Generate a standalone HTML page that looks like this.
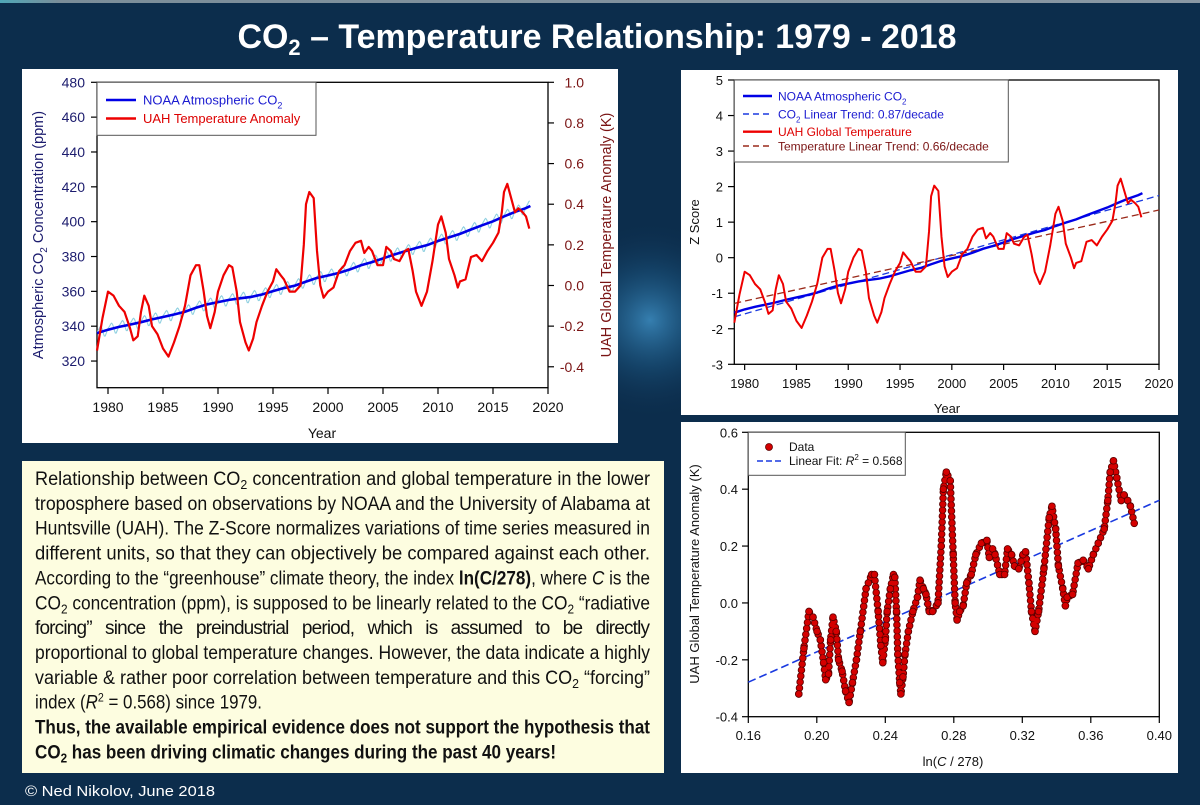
<!DOCTYPE html>
<html><head><meta charset="utf-8"><style>
html,body{margin:0;padding:0;background:#0c2d4c;}
svg{display:block;font-family:"Liberation Sans",Arial,sans-serif;}
</style></head><body>
<svg id="root" width="1200" height="805" viewBox="0 0 1200 805" xmlns="http://www.w3.org/2000/svg">
<defs>
<radialGradient id="glow" cx="0.5" cy="0.5" r="0.5">
<stop offset="0" stop-color="#3a88bb" stop-opacity="0.9"/>
<stop offset="0.5" stop-color="#1d5a86" stop-opacity="0.45"/>
<stop offset="1" stop-color="#0c2d4c" stop-opacity="0"/>
</radialGradient>
<linearGradient id="topstrip" x1="0" x2="1" y1="0" y2="0">
<stop offset="0" stop-color="#4fa7b8"/><stop offset="0.05" stop-color="#7b8d99"/><stop offset="1" stop-color="#8a98a4"/>
</linearGradient>
<clipPath id="zclip"><rect x="734.3" y="80" width="424.7" height="284.3"/></clipPath>
<clipPath id="mclip"><rect x="97" y="82.3" width="451" height="305.4"/></clipPath>
</defs>
<rect x="0" y="0" width="1200" height="805" fill="#0c2d4c"/>
<rect x="0" y="0" width="1200" height="3" fill="url(#topstrip)"/>
<circle cx="650" cy="320" r="100" fill="url(#glow)"/>

<text x="597" y="48" text-anchor="middle" font-size="34" font-weight="bold" fill="#ffffff" textLength="719" lengthAdjust="spacingAndGlyphs" style="font-family:'Liberation Sans Narrow','Liberation Sans',sans-serif">CO<tspan font-size="22" dy="7">2</tspan><tspan dy="-7"> – Temperature Relationship: 1979 - 2018</tspan></text>

<rect x="22" y="69" width="596" height="374" fill="#ffffff"/>
<rect x="681" y="70" width="497" height="345" fill="#ffffff"/>
<rect x="681" y="422" width="497" height="351" fill="#ffffff"/>
<rect x="22" y="461" width="642" height="312" fill="#fdfde0"/>

<g id="main"></g>
<g id="zchart"></g>
<g id="schart"></g>

<g id="desc" fill="#111" font-size="19" style="font-family:'Liberation Sans Narrow','Liberation Sans',sans-serif">
<text x="35" y="485" textLength="615" lengthAdjust="spacingAndGlyphs">Relationship between CO<tspan font-size="13" dy="4">2</tspan><tspan dy="-4"> concentration and global temperature in the lower</tspan></text>
<text x="35" y="509.9" textLength="615" lengthAdjust="spacingAndGlyphs">troposphere based on observations by NOAA and the University of Alabama at</text>
<text x="35" y="534.7" textLength="615" lengthAdjust="spacingAndGlyphs">Huntsville (UAH). The Z-Score normalizes variations of time series measured in</text>
<text x="35" y="559.6" textLength="615" lengthAdjust="spacingAndGlyphs">different units, so that they can objectively be compared against each other.</text>
<text x="35" y="584.4" textLength="615" lengthAdjust="spacingAndGlyphs">According to the “greenhouse” climate theory, the index <tspan font-weight="bold">ln(C/278)</tspan>, where <tspan font-style="italic">C</tspan> is the</text>
<text x="35" y="609.3" textLength="615" lengthAdjust="spacingAndGlyphs">CO<tspan font-size="13" dy="4">2</tspan><tspan dy="-4"> concentration (ppm), is supposed to be linearly related to the CO</tspan><tspan font-size="13" dy="4">2</tspan><tspan dy="-4"> “radiative</tspan></text>
<text x="35" y="634.1" textLength="615" lengthAdjust="spacing" style="white-space:pre">forcing”   since   the   preindustrial   period,   which   is   assumed   to   be   directly</text>
<text x="35" y="659" textLength="615" lengthAdjust="spacingAndGlyphs">proportional to global temperature changes. However, the data indicate a highly</text>
<text x="35" y="683.8" textLength="615" lengthAdjust="spacingAndGlyphs">variable &amp; rather poor correlation between temperature and this CO<tspan font-size="13" dy="4">2</tspan><tspan dy="-4"> “forcing”</tspan></text>
<text x="35" y="708.7" textLength="227" lengthAdjust="spacingAndGlyphs">index (<tspan font-style="italic">R</tspan><tspan font-size="12" dy="-7">2</tspan><tspan dy="7"> = 0.568) since 1979.</tspan></text>
<text x="35" y="733.5" textLength="615" lengthAdjust="spacingAndGlyphs" font-weight="bold">Thus, the available empirical evidence does not support the hypothesis that</text>
<text x="35" y="758.4" textLength="521" lengthAdjust="spacingAndGlyphs" font-weight="bold">CO<tspan font-size="13" dy="4">2</tspan><tspan dy="-4"> has been driving climatic changes during the past 40 years!</tspan></text>
</g>
<text x="25" y="796" font-size="15" fill="#ffffff" textLength="190" lengthAdjust="spacingAndGlyphs" style="font-family:'Liberation Sans Narrow','Liberation Sans',sans-serif">© Ned Nikolov, June  2018</text>
</svg>
<script>
// ---- data ----
const co2Years = [1979,1980,1981,1982,1983,1984,1985,1986,1987,1988,1989,1990,1991,1992,1993,1994,1995,1996,1997,1998,1999,2000,2001,2002,2003,2004,2005,2006,2007,2008,2009,2010,2011,2012,2013,2014,2015,2016,2017,2018,2018.4];
const co2Values = [336.0,338.0,339.6,340.9,342.3,343.9,345.3,346.7,348.3,350.6,352.5,353.8,355.1,356.0,356.8,358.2,360.1,361.9,363.3,365.6,367.7,369.1,370.6,372.6,375.0,376.8,378.9,381.1,383.0,384.9,386.5,388.9,391.0,393.0,395.5,397.9,400.2,403.0,405.6,407.8,409.0];
const seasonalOffsets = [0.7,1.3,2.0,2.9,3.2,2.4,0.8,-1.4,-3.0,-3.1,-1.8,-0.6];
const tempYears = [1979.0,1979.5,1980.0,1980.5,1981.0,1981.5,1982.0,1982.3,1982.7,1983.0,1983.3,1983.7,1984.0,1984.5,1985.0,1985.5,1986.0,1986.5,1987.0,1987.5,1988.0,1988.3,1988.7,1989.0,1989.3,1989.7,1990.0,1990.5,1991.0,1991.3,1991.7,1992.0,1992.5,1992.8,1993.2,1993.5,1994.0,1994.5,1995.0,1995.3,1995.7,1996.0,1996.5,1997.0,1997.5,1997.8,1998.0,1998.3,1998.7,1999.0,1999.3,1999.6,2000.0,2000.5,2001.0,2001.5,2002.0,2002.5,2003.0,2003.3,2003.7,2004.0,2004.5,2005.0,2005.3,2005.7,2006.0,2006.5,2007.0,2007.3,2007.7,2008.0,2008.5,2009.0,2009.5,2010.0,2010.3,2010.7,2011.0,2011.5,2011.8,2012.0,2012.5,2013.0,2013.5,2014.0,2014.5,2015.0,2015.5,2015.8,2016.0,2016.3,2016.6,2017.0,2017.3,2017.7,2018.0,2018.3];
const tempValues = [-0.32,-0.16,-0.03,-0.05,-0.10,-0.13,-0.21,-0.27,-0.25,-0.13,-0.05,-0.10,-0.20,-0.24,-0.31,-0.35,-0.28,-0.20,-0.10,0.05,0.10,0.10,-0.03,-0.15,-0.21,-0.13,-0.03,0.05,0.10,0.09,-0.03,-0.18,-0.28,-0.32,-0.26,-0.18,-0.10,-0.03,0.02,0.08,0.05,0.03,-0.03,-0.03,0.00,0.20,0.40,0.46,0.43,0.17,0.00,-0.06,-0.03,-0.01,0.07,0.10,0.17,0.21,0.22,0.16,0.19,0.17,0.10,0.10,0.19,0.17,0.13,0.12,0.17,0.18,0.07,-0.03,-0.10,-0.03,0.12,0.30,0.34,0.26,0.13,0.05,-0.01,0.02,0.03,0.14,0.15,0.12,0.17,0.21,0.26,0.36,0.46,0.50,0.44,0.36,0.38,0.36,0.34,0.28];
const mainLeftTicks = [320,340,360,380,400,420,440,460,480];
const mainRightTicks = [-0.4,-0.2,0.0,0.2,0.4,0.6,0.8,1.0];
const yearTicks = [1980,1985,1990,1995,2000,2005,2010,2015,2020];
const zTicks = [-3,-2,-1,0,1,2,3,4,5];
const scatterYTicks = [-0.4,-0.2,0.0,0.2,0.4,0.6];
const scatterXTicks = [0.16,0.20,0.24,0.28,0.32,0.36,0.40];

// ---- helpers ----
const NS = "http://www.w3.org/2000/svg";
function mk(tag, attrs, parent){const e=document.createElementNS(NS,tag);for(const k in attrs)e.setAttribute(k,attrs[k]);parent.appendChild(e);return e;}
function lin(d0,d1,r0,r1){return v=>r0+(v-d0)/(d1-d0)*(r1-r0);}
function interp(xs,ys,x){if(x<=xs[0])return ys[0];for(let i=1;i<xs.length;i++){if(x<=xs[i]){const f=(x-xs[i-1])/(xs[i]-xs[i-1]);return ys[i-1]+f*(ys[i]-ys[i-1]);}}return ys[ys.length-1];}
function pathOf(xs,ys,fx,fy){return xs.map((x,i)=>(i?"L":"M")+fx(x).toFixed(2)+" "+fy(ys[i]).toFixed(2)).join(" ");}
function stats(a){const m=a.reduce((s,v)=>s+v,0)/a.length;const sd=Math.sqrt(a.reduce((s,v)=>s+(v-m)*(v-m),0)/(a.length-1));return [m,sd];}
function regress(xs,ys){const n=xs.length;const mx=xs.reduce((s,v)=>s+v,0)/n,my=ys.reduce((s,v)=>s+v,0)/n;let sxy=0,sxx=0;for(let i=0;i<n;i++){sxy+=(xs[i]-mx)*(ys[i]-my);sxx+=(xs[i]-mx)*(xs[i]-mx);}const b=sxy/sxx;return [my-b*mx,b];}
function frame(g,x0,y0,x1,y1){
  const r=mk('rect',{x:x0,y:y0,width:x1-x0,height:y1-y0,fill:'none',stroke:'#000','stroke-width':1.3},g);
  
  
}

// ================= MAIN CHART =================
(function(){
const g=document.getElementById('main');
const mx=lin(1979,2020,97,548), myL=lin(304.7,480,387.7,82.3), myR=lin(-0.503,1.0,387.7,82.3);
frame(g,97,82.3,548,387.7);
mainLeftTicks.forEach(v=>{
  const y=myL(v);
  const t=mk('line',{x1:97,x2:91,y1:y,y2:y,stroke:'#000','stroke-width':1.2},g);
  
  
  const l=mk('text',{x:85,y:y+5,'text-anchor':'end','font-size':14,fill:'#1c1c6e'},g);
  
  
  l.textContent=v;
});
mainRightTicks.forEach(v=>{
  const y=myR(v);
  const t=mk('line',{x1:548,x2:554,y1:y,y2:y,stroke:'#000','stroke-width':1.2},g);
  
  
  const l=mk('text',{x:584,y:y+5,'text-anchor':'end','font-size':14,fill:'#7a1414'},g);
  
  
  l.textContent=v.toFixed(1);
});
yearTicks.forEach(v=>{
  const x=mx(v);
  const t=mk('line',{x1:x,x2:x,y1:387.7,y2:394,stroke:'#000','stroke-width':1.2},g);
  
  
  const l=mk('text',{x:x,y:412,'text-anchor':'middle','font-size':14,fill:'#111'},g);
  
  
  l.textContent=v;
});
const xt=mk('text',{x:322,y:438,'text-anchor':'middle','font-size':14,fill:'#111'},g);


xt.textContent='Year';
const lt=mk('text',{x:0,y:0,'text-anchor':'middle','font-size':14.5,fill:'#1c1c6e',transform:'translate(43,235) rotate(-90)'},g);


lt.innerHTML='Atmospheric CO<tspan font-size="10" dy="4">2</tspan><tspan dy="-4"> Concentration (ppm)</tspan>';
const rt=mk('text',{x:0,y:0,'text-anchor':'middle','font-size':14.5,fill:'#7a1414',transform:'translate(611,235) rotate(-90)'},g);


rt.textContent='UAH Global Temperature Anomaly (K)';
const sx=[],sy=[];
for(let m=0;;m++){const t=1979+m/12;if(t>2018.4)break;sx.push(t);sy.push(interp(co2Years,co2Values,t)+seasonalOffsets[m%12]);}
const sl=mk('path',{d:pathOf(sx,sy,mx,myL),fill:'none',stroke:'#8fd0e0','stroke-width':1.1,'clip-path':'url(#mclip)'},g);


const cl=mk('path',{d:pathOf(co2Years,co2Values,mx,myL),fill:'none',stroke:'#0000e6','stroke-width':2.6},g);


const tl=mk('path',{d:pathOf(tempYears,tempValues,mx,myR),fill:'none',stroke:'#ee0000','stroke-width':2.2,'stroke-linejoin':'round'},g);


const lb=mk('rect',{x:97,y:82.3,width:219,height:53,fill:'#fff',stroke:'#555','stroke-width':1},g);


const l1=mk('line',{x1:106,x2:136,y1:100,y2:100,stroke:'#0000e6','stroke-width':2.5},g);


const t1=mk('text',{x:143,y:104.5,'font-size':13,fill:'#1a1ad0'},g);


t1.innerHTML='NOAA Atmospheric CO<tspan font-size="9" dy="4">2</tspan>';
const l2=mk('line',{x1:106,x2:136,y1:118.5,y2:118.5,stroke:'#ee0000','stroke-width':2.5},g);


const t2=mk('text',{x:143,y:123,'font-size':13,fill:'#dd0000'},g);


t2.textContent='UAH Temperature Anomaly';
})();

// ================= Z SCORE CHART =================
(function(){
const g=document.getElementById('zchart');
const zx=lin(1979,2020,734.3,1159), zy=lin(-3,5,364.3,80);
frame(g,734.3,80,1159,364.3);
zTicks.forEach(v=>{
  const y=zy(v);
  const t=mk('line',{x1:734.3,x2:728,y1:y,y2:y,stroke:'#000','stroke-width':1.2},g);
  
  
  const l=mk('text',{x:723,y:y+5,'text-anchor':'end','font-size':13,fill:'#111'},g);
  
  
  l.textContent=v;
});
yearTicks.forEach(v=>{
  const x=zx(v);
  const t=mk('line',{x1:x,x2:x,y1:364.3,y2:370,stroke:'#000','stroke-width':1.2},g);
  
  
  const l=mk('text',{x:x,y:388,'text-anchor':'middle','font-size':13,fill:'#111'},g);
  
  
  l.textContent=v;
});
const xt=mk('text',{x:947,y:413,'text-anchor':'middle','font-size':13,fill:'#111'},g);


xt.textContent='Year';
const yt=mk('text',{x:0,y:0,'text-anchor':'middle','font-size':13,fill:'#111',transform:'translate(699,222) rotate(-90)'},g);


yt.textContent='Z Score';
const [cm,cs]=stats(co2Values), [tm,ts]=stats(tempValues);
const cz=co2Values.map(v=>(v-cm)/cs), tz=tempValues.map(v=>(v-tm)/ts);
const [ca,cb]=regress(co2Years,cz), [ta,tb]=regress(tempYears,tz);
const ct=mk('line',{x1:zx(1979),x2:zx(2020),y1:zy(ca+cb*1979),y2:zy(ca+cb*2020),stroke:'#1a3ae0','stroke-width':1.3,'stroke-dasharray':'7 4','clip-path':'url(#zclip)'},g);


const tt=mk('line',{x1:zx(1979),x2:zx(2020),y1:zy(ta+tb*1979),y2:zy(ta+tb*2020),stroke:'#9a2a1a','stroke-width':1.3,'stroke-dasharray':'7 4','clip-path':'url(#zclip)'},g);


const cl=mk('path',{d:pathOf(co2Years,cz,zx,zy),fill:'none',stroke:'#0000e6','stroke-width':2.4},g);


const tl=mk('path',{d:pathOf(tempYears,tz,zx,zy),fill:'none',stroke:'#ee0000','stroke-width':2,'stroke-linejoin':'round'},g);


const lb=mk('rect',{x:734.3,y:80,width:274,height:82,fill:'#fff',stroke:'#555','stroke-width':1},g);


const entries=[[96,'#0000e6',null,'NOAA Atmospheric CO<tspan font-size="8" dy="4">2</tspan>','#1a1ad0'],
 [114,'#1a3ae0','6 4','CO<tspan font-size="8" dy="4">2</tspan><tspan dy="-4"> Linear Trend: 0.87/decade</tspan>','#1a1ad0'],
 [131.7,'#ee0000',null,'UAH Global Temperature','#dd0000'],
 [146,'#9a2a1a','6 4','Temperature Linear Trend: 0.66/decade','#7a1414']];
entries.forEach(e=>{
  const a={x1:743,x2:772,y1:e[0],y2:e[0],stroke:e[1],'stroke-width':e[2]?1.4:2.4};
  if(e[2])a['stroke-dasharray']=e[2];
  const s=mk('line',a,g);
  
  
  const t=mk('text',{x:778,y:e[0]+4.3,'font-size':12,fill:e[4]},g);
  
  
  t.innerHTML=e[3];
});
})();

// ================= SCATTER CHART =================
(function(){
const g=document.getElementById('schart');
const sx=lin(0.16,0.40,748.3,1159.3), sy=lin(-0.4,0.6,716.7,432.3);
frame(g,748.3,432.3,1159.3,716.7);
scatterYTicks.forEach(v=>{
  const y=sy(v);
  const t=mk('line',{x1:748.3,x2:742,y1:y,y2:y,stroke:'#000','stroke-width':1.2},g);
  
  
  const l=mk('text',{x:738,y:y+5,'text-anchor':'end','font-size':13,fill:'#111'},g);
  
  
  l.textContent=v.toFixed(1);
});
scatterXTicks.forEach(v=>{
  const x=sx(v);
  const t=mk('line',{x1:x,x2:x,y1:716.7,y2:723,stroke:'#000','stroke-width':1.2},g);
  
  
  const l=mk('text',{x:x,y:740,'text-anchor':'middle','font-size':13,fill:'#111'},g);
  
  
  l.textContent=v.toFixed(2);
});
const xt=mk('text',{x:953,y:766,'text-anchor':'middle','font-size':13,fill:'#111'},g);


xt.innerHTML='ln(<tspan font-style="italic">C</tspan> / 278)';
const yt=mk('text',{x:0,y:0,'text-anchor':'middle','font-size':13,fill:'#111',transform:'translate(699,574) rotate(-90)'},g);


yt.textContent='UAH Global Temperature Anomaly (K)';
const lnc=tempYears.map(t=>Math.log(interp(co2Years,co2Values,t)/278));
const [a,b]=regress(lnc,tempValues);
const fit=mk('line',{x1:sx(0.16),x2:sx(0.40),y1:sy(a+b*0.16),y2:sy(a+b*0.40),stroke:'#1a3ae0','stroke-width':1.6,'stroke-dasharray':'8 4'},g);


const d=pathOf(lnc,tempValues,sx,sy);
const outline=mk('path',{d:d,fill:'none',stroke:'#5a0000','stroke-width':7.5,'stroke-dasharray':'0 6','stroke-linecap':'round'},g);


const trail=mk('path',{d:d,fill:'none',stroke:'#d40000','stroke-width':5.8,'stroke-dasharray':'0 6','stroke-linecap':'round'},g);


lnc.forEach((x,i)=>{
  const c=mk('circle',{cx:sx(x),cy:sy(tempValues[i]),r:3.4,fill:'#d40000',stroke:'#5a0000','stroke-width':0.8},g);
  
  
});
const lb=mk('rect',{x:748.3,y:432.3,width:157,height:43,fill:'#fff',stroke:'#555','stroke-width':1},g);


const ld=mk('circle',{cx:769,cy:447,r:3.5,fill:'#d40000',stroke:'#5a0000','stroke-width':0.8},g);


const lt1=mk('text',{x:789,y:451,'font-size':12,fill:'#111'},g);


lt1.textContent='Data';
const ll=mk('line',{x1:757,x2:782,y1:461,y2:461,stroke:'#1a3ae0','stroke-width':1.6,'stroke-dasharray':'6 3'},g);


const lt2=mk('text',{x:789,y:465,'font-size':12,fill:'#111'},g);


lt2.innerHTML='Linear Fit: <tspan font-style="italic">R</tspan><tspan font-size="8" dy="-5">2</tspan><tspan dy="5"> = 0.568</tspan>';
})();
</script>
</body></html>
